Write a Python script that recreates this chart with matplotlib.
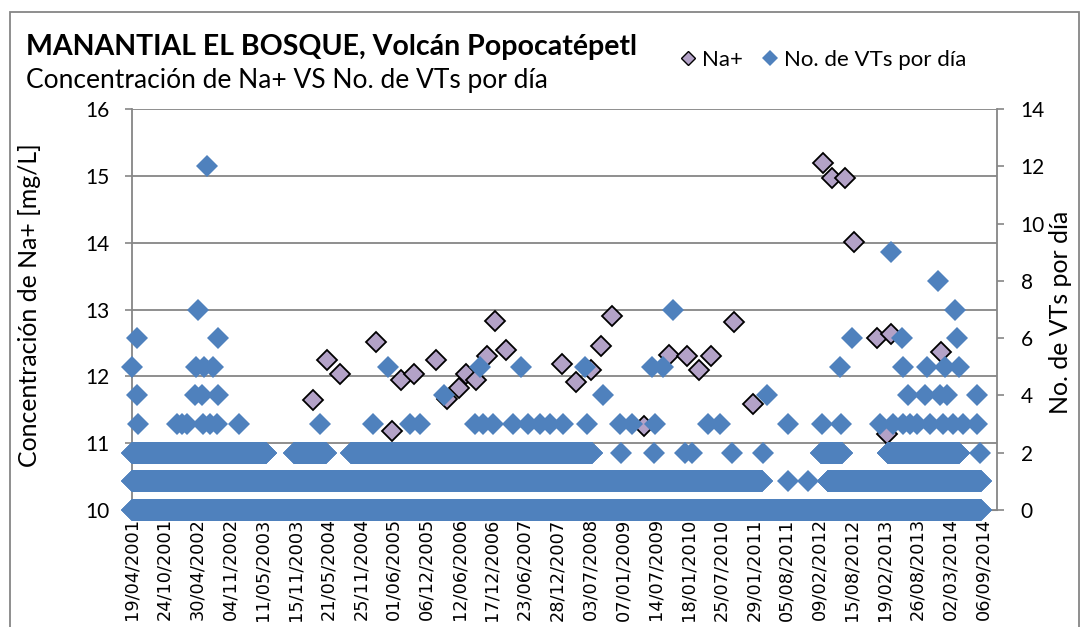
import matplotlib
matplotlib.use("Agg")
import matplotlib.pyplot as plt
from matplotlib.lines import Line2D
from matplotlib.patches import Rectangle
import pandas as pd

# ---------------- data ----------------
na_dates = ['2004-02-24', '2004-05-14', '2004-07-28', '2005-02-20', '2005-05-23',
            '2005-07-14', '2005-09-27', '2006-01-31', '2006-04-04', '2006-06-12',
            '2006-07-23', '2006-09-18', '2006-11-20', '2007-01-05', '2007-03-10',
            '2008-01-26', '2008-04-15', '2008-07-10', '2008-09-06', '2008-11-08',
            '2009-05-11', '2009-09-26', '2010-01-13', '2010-03-18', '2010-05-26',
            '2010-10-05', '2011-01-22', '2012-02-29', '2012-04-20', '2012-07-04',
            '2012-08-25', '2013-01-04', '2013-03-03', '2013-03-26', '2014-01-07']
na_values = [11.64, 12.25, 12.03, 12.52, 11.18, 11.94, 12.03, 12.25, 11.66, 11.82,
             12.03, 11.95, 12.30, 12.83, 12.39, 12.18, 11.91, 12.09, 12.46, 12.90,
             11.26, 12.32, 12.31, 12.10, 12.30, 12.81, 11.58, 15.19, 14.97, 14.97,
             14.01, 12.57, 11.13, 12.63, 12.36]

# VT counts: individual days
vt_day_dates = [
    '2002-06-24',                                   # 12
    '2013-03-27',                                   # 9
    '2013-12-22',                                   # 8
    '2002-05-03', '2009-10-21', '2014-03-30',       # 7
    '2001-05-18', '2002-08-26', '2012-08-15', '2013-05-29', '2014-04-10',  # 6
    '2001-04-19', '2002-04-21', '2002-06-06', '2002-07-28', '2005-04-29',
    '2006-10-09', '2007-06-01', '2008-06-03', '2009-06-23', '2009-08-25',
    '2012-06-07', '2013-06-04', '2013-10-20', '2014-01-31', '2014-04-22',  # 5
    '2001-05-18', '2002-04-16', '2002-05-26', '2002-08-26', '2006-03-16',
    '2008-09-15', '2011-04-14', '2013-07-02', '2013-10-08', '2014-01-02',
    '2014-02-12', '2014-08-03',                                            # 4
    '2001-05-23', '2002-01-03', '2002-01-31', '2002-03-01', '2002-06-01',
    '2002-07-11', '2002-08-20', '2002-12-25', '2004-04-03', '2005-02-01',
    '2005-09-02', '2005-10-30', '2006-09-10', '2006-10-26', '2006-12-23',
    '2007-04-17', '2007-07-11', '2007-09-18', '2007-11-15', '2008-01-29',
    '2008-06-15', '2008-12-21', '2009-02-28', '2009-07-10', '2010-05-11',
    '2010-07-19', '2011-08-13', '2012-02-25', '2012-06-13', '2013-01-22',
    '2013-04-07', '2013-06-04', '2013-07-14', '2013-08-23', '2013-11-06',
    '2014-01-20', '2014-03-18', '2014-05-15', '2014-08-03',                # 3
    '2008-12-27', '2009-07-04', '2009-12-29', '2010-02-08', '2010-09-26',
    '2011-03-22', '2014-08-20',                                            # 2
    '2011-08-13', '2011-12-06',                                            # 1
]
vt_day_counts = [12, 9, 8, 7, 7, 7, 6, 6, 6, 6, 6] + [5] * 15 + [4] * 12 + [3] * 39 + [2] * 7 + [1] * 2

# VT counts: runs of consecutive daily records with the same count
vt_run_start = ['2001-04-19', '2001-04-19', '2012-03-30', '2001-04-19', '2003-11-06',
                '2004-09-28', '2012-02-19', '2013-03-09']
vt_run_end = ['2014-08-26', '2011-03-17', '2014-08-26', '2003-05-29', '2004-05-07',
              '2008-07-13', '2012-06-18', '2014-04-22']
vt_run_count = [0, 1, 1, 2, 2, 2, 2, 2]

tick_labels = ['19/04/2001', '24/10/2001', '30/04/2002', '04/11/2002', '11/05/2003',
               '15/11/2003', '21/05/2004', '25/11/2004', '01/06/2005', '06/12/2005',
               '12/06/2006', '17/12/2006', '23/06/2007', '28/12/2007', '03/07/2008',
               '07/01/2009', '14/07/2009', '18/01/2010', '25/07/2010', '29/01/2011',
               '05/08/2011', '09/02/2012', '15/08/2012', '19/02/2013', '26/08/2013',
               '02/03/2014', '06/09/2014']

# ---------------- build series ----------------
na_d = pd.to_datetime(na_dates)
vt_d = list(pd.to_datetime(vt_day_dates))
vt_v = list(vt_day_counts)
for s, e, c in zip(vt_run_start, vt_run_end, vt_run_count):
    days = pd.date_range(s, e, freq='D')
    vt_d.extend(days)
    vt_v.extend([c] * len(days))
tick_pos = pd.to_datetime(tick_labels, dayfirst=True)

# ---------------- figure ----------------
W, H = 1084, 627
fig = plt.figure(figsize=(W / 100, H / 100), dpi=100)
fig.patch.set_facecolor('white')
ax = fig.add_axes([132 / W, 1 - 510 / H, (997 - 132) / W, (510 - 109) / H])
ax2 = ax.twinx()

grey = '#868686'
font = 'Lato'

ax.plot(na_d, na_values, ls='none', marker='D', ms=10, mfc='#B3A2C7', mec='black',
        mew=1.3, clip_on=False, zorder=3)
ax2.plot(vt_d, vt_v, ls='none', marker='D', ms=11.2, color='#4F81BD', mew=0,
         clip_on=False, zorder=3)

ax.set_ylim(10, 16)
ax2.set_ylim(0, 14)
ax.set_xlim(pd.Timestamp('2001-04-19'), pd.Timestamp('2014-11-26'))
ax.set_yticks(range(10, 17))
ax2.set_yticks(range(0, 15, 2))
ax.set_xticks(tick_pos)
ax.set_xticklabels(tick_labels, rotation=90, fontsize=12.8, family='DejaVu Sans')
ax.tick_params(axis='x', length=0, pad=6)

ax.yaxis.grid(True, color=grey, lw=1.3)
ax.set_axisbelow(True)
for sp in ['top', 'right']:
    ax.spines[sp].set_visible(False)
for sp in ['top', 'left', 'bottom']:
    ax2.spines[sp].set_visible(False)
ax.spines['left'].set_color(grey)
ax.spines['left'].set_linewidth(1.3)
ax.spines['bottom'].set_color(grey)
ax2.spines['right'].set_color(grey)
ax2.spines['right'].set_linewidth(1.3)

ax.tick_params(axis='y', direction='out', length=5, width=1.2, color=grey, pad=11,
               labelsize=15)
ax2.tick_params(axis='y', direction='out', length=5, width=1.2, color=grey, pad=12,
                labelsize=15)
for lab in ax.get_yticklabels() + ax2.get_yticklabels():
    lab.set_family(font)

# titles
t1 = fig.text(26 / W, 1 - 55 / H, 'MANANTIAL EL BOSQUE, Volcán Popocatépetl',
              fontsize=17, fontweight='bold', family=font, va='baseline', ha='left')
t2 = fig.text(26 / W, 1 - 88 / H, 'Concentración de Na+ VS No. de VTs por día',
              fontsize=15.5, family=font, va='baseline', ha='left')
yl = fig.text(30 / W, 1 - 305 / H, 'Concentración de Na+ [mg/L]', rotation=90,
              fontsize=15, family=font, va='center', ha='center')
yr = fig.text(1060 / W, 1 - 312 / H, 'No. de VTs por día', rotation=90,
              fontsize=15, family=font, va='center', ha='center')

fig.canvas.draw()
r = fig.canvas.get_renderer()
for t, target, horiz in [(t1, 610, True), (t2, 522, True), (yl, 325, False)]:
    bb = t.get_window_extent(r)
    cur = bb.width if horiz else bb.height
    t.set_fontsize(t.get_fontsize() * target / cur)
yr.set_fontsize(yl.get_fontsize())

# legend
h1 = Line2D([], [], ls='none', marker='D', ms=7.5, mfc='#B3A2C7', mec='black', mew=1.0)
h2 = Line2D([], [], ls='none', marker='D', ms=8, color='#4F81BD', mew=0)
fig.legend([h1, h2], ['Na+', 'No. de VTs por día'], loc='center left',
           bbox_to_anchor=(679 / W, 1 - 60 / H), ncol=2, frameon=False,
           prop={'family': font, 'size': 16}, handlelength=0.8, handletextpad=0.25,
           columnspacing=0.8, borderpad=0, borderaxespad=0)

# chart border
fig.add_artist(Rectangle((10 / W, -0.05), (1079 - 10) / W, 1.05 - 12 / H,
                         transform=fig.transFigure, fill=False, ec=grey, lw=1.3))

fig.savefig('out.png', dpi=100)
